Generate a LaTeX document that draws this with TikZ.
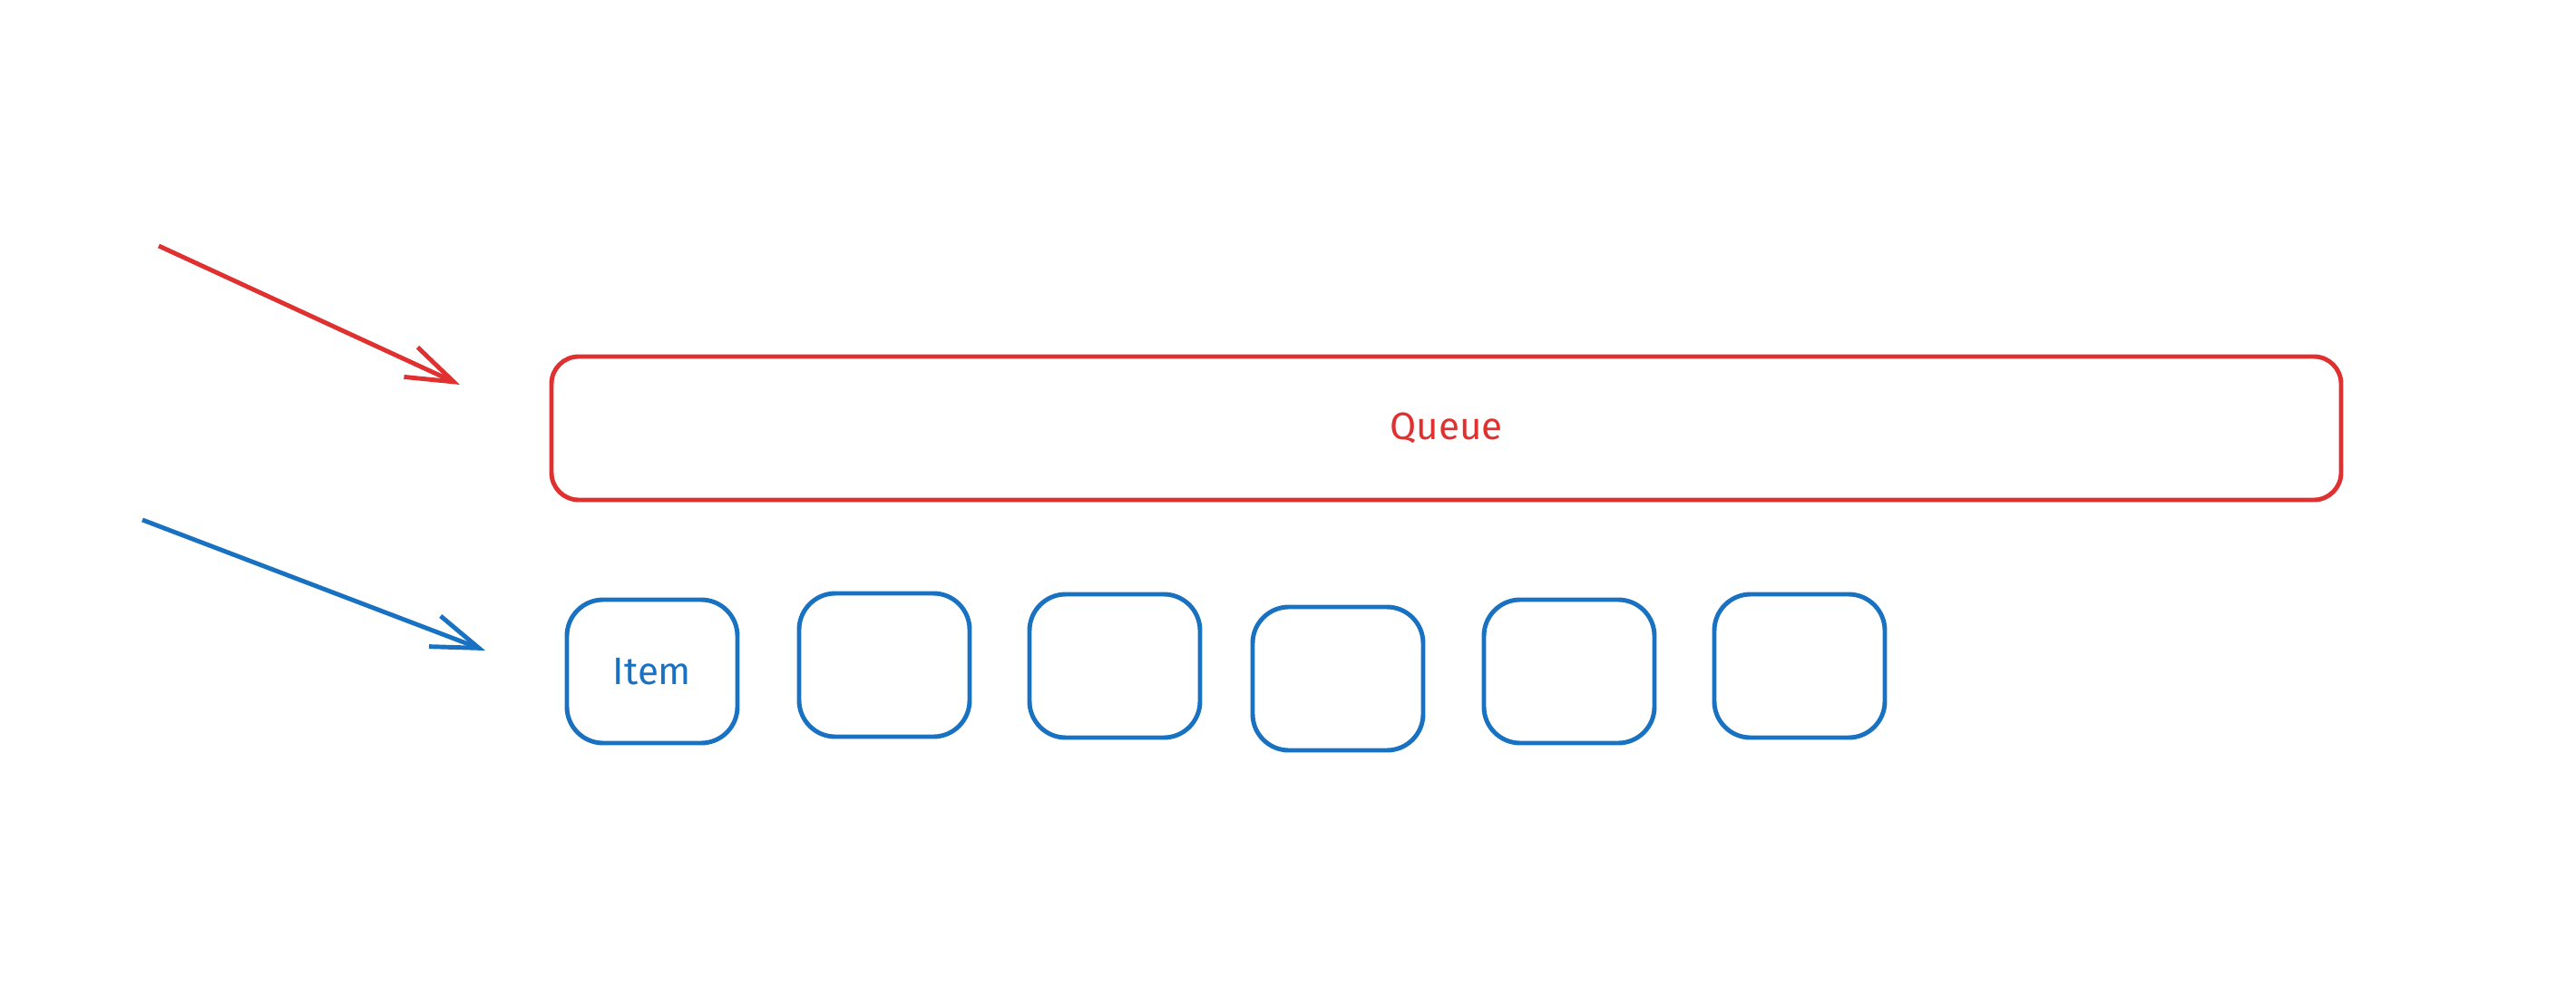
\documentclass[tikz,border=0pt]{standalone}
\usepackage{fontspec}
\setmainfont{Fira Sans}
\usetikzlibrary{arrows.meta}

\definecolor{qred}{HTML}{E03131}
\definecolor{qblue}{HTML}{1971C2}

\begin{document}
\begin{tikzpicture}
        \tikzstyle{every path}=[line width=1.4pt]

        \tikzstyle{queue}=[draw=qred,text=qred,rounded corners=0.3cm,minimum width=19.73cm,minimum height=1.58cm,font=\large]
        \tikzstyle{item}=[draw=qblue,text=qblue,rounded corners=0.4cm,minimum width=1.88cm,minimum height=1.58cm,font=\large]
        \tikzstyle{barb}=[-{Straight Barb[length=5.2mm,width=3.6mm]}]

        \useasboundingbox (0,0) rectangle (28.4,-11);

        \node [queue] (queue) at (15.945,-4.72) {Queue};

        \node [item] (item1) at (7.19,-7.40) {Item};
        \foreach \i/\x/\y in {2/9.75/-7.33, 3/12.29/-7.34, 4/14.75/-7.48, 5/17.30/-7.40, 6/19.84/-7.34} {
            \node [item] (item\i) at (\x,\y) {};
        };

        \coordinate (qstart) at (1.75,-2.71);
        \coordinate (qend) at (5.07,-4.24);
        \coordinate (istart) at (1.57,-5.73);
        \coordinate (iend) at (5.35,-7.17);

        \draw[barb, qred] (qstart) -- (qend);    % queue
        \draw[barb, qblue] (istart) -- (iend);   % item

\end{tikzpicture}
\end{document}
